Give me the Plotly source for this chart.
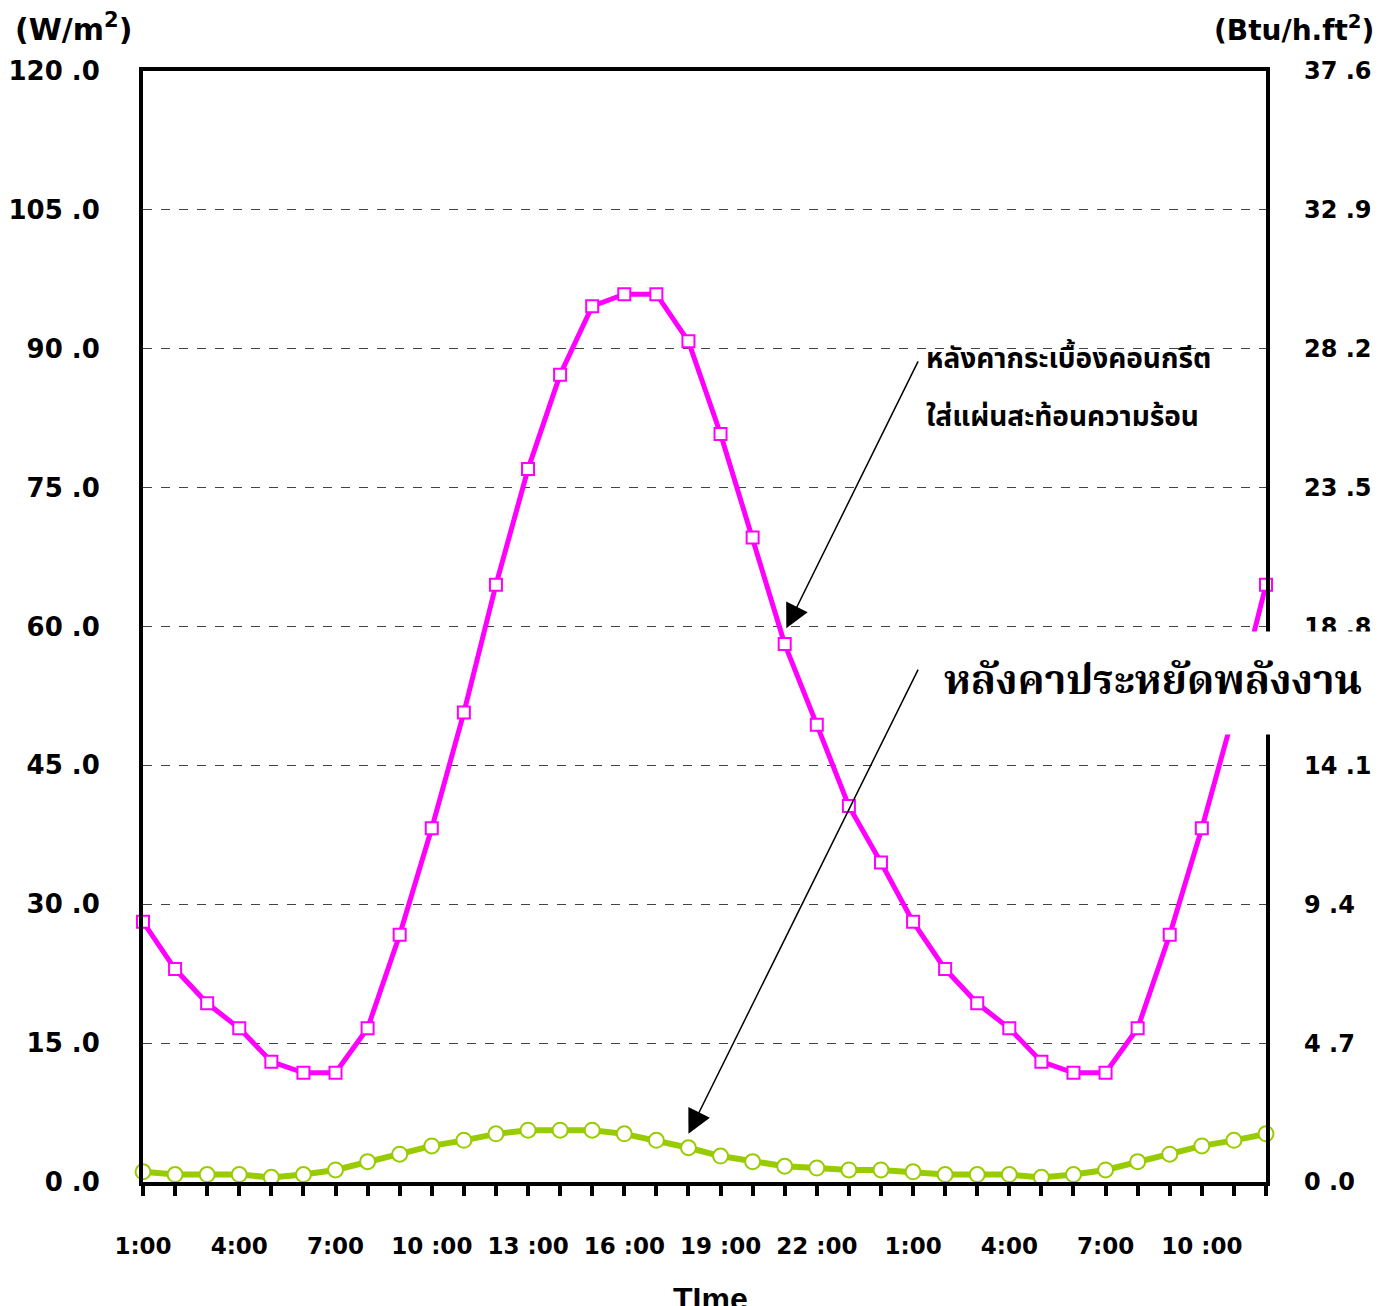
import plotly.graph_objects as go

hours = ["1:00","2:00","3:00","4:00","5:00","6:00","7:00","8:00","9:00","10:00","11:00","12:00",
         "13:00","14:00","15:00","16:00","17:00","18:00","19:00","20:00","21:00","22:00","23:00","24:00",
         "1:00","2:00","3:00","4:00","5:00","6:00","7:00","8:00","9:00","10:00","11:00","12:00"]
x_idx = list(range(len(hours)))

concrete_tile = [28.1, 23.0, 19.3, 16.6, 13.0, 11.8, 11.8, 16.6, 26.7, 38.2, 50.7, 64.5,
                 77.0, 87.2, 94.6, 95.9, 95.9, 90.8, 80.8, 69.6, 58.1, 49.4, 40.6, 34.5,
                 28.1, 23.0, 19.3, 16.6, 13.0, 11.8, 11.8, 16.6, 26.7, 38.2, 50.7, 64.5]
energy_saving = [1.1, 0.8, 0.8, 0.8, 0.5, 0.8, 1.3, 2.2, 3.0, 3.9, 4.5, 5.2,
                 5.6, 5.6, 5.6, 5.2, 4.5, 3.7, 2.8, 2.2, 1.7, 1.5, 1.3, 1.3,
                 1.1, 0.8, 0.8, 0.8, 0.5, 0.8, 1.3, 2.2, 3.0, 3.9, 4.5, 5.2]

left_ticks = [0, 15, 30, 45, 60, 75, 90, 105, 120]
left_text = ["0 .0", "15 .0", "30 .0", "45 .0", "60 .0", "75 .0", "90 .0", "105 .0", "120 .0"]
right_ticks = [0.0, 4.7, 9.4, 14.1, 18.8, 23.5, 28.2, 32.9, 37.6]
right_text = ["0 .0", "4 .7", "9 .4", "14 .1", "18 .8", "23 .5", "28 .2", "32 .9", "37 .6"]


def fmt_hour(h):
    hh, mm = h.split(":")
    return f"{hh} :{mm}" if len(hh) == 2 else h


x_text = [fmt_hour(h) if i % 3 == 0 else "" for i, h in enumerate(hours)]

label_font = "DejaVu Sans, Verdana, sans-serif"
thai_sans = "Noto Sans Thai, Loma, Garuda, Tahoma, sans-serif"
thai_serif = "Noto Serif Thai, Norasi, Noto Sans Thai, serif"

fig = go.Figure()
fig.add_trace(go.Scatter(
    x=x_idx, y=energy_saving, mode="lines+markers", cliponaxis=False,
    line=dict(color="#99CC00", width=6),
    marker=dict(symbol="circle", size=15, color="white", line=dict(color="#99CC00", width=2)),
    showlegend=False))
fig.add_trace(go.Scatter(
    x=x_idx, y=concrete_tile, mode="lines+markers", cliponaxis=False,
    line=dict(color="#FF00FF", width=5),
    marker=dict(symbol="square", size=12, color="white", line=dict(color="#FF00FF", width=2)),
    showlegend=False))
# invisible trace to attach right axis
fig.add_trace(go.Scatter(x=[x_idx[0]], y=[0], yaxis="y2", mode="markers",
                         marker=dict(opacity=0), showlegend=False, hoverinfo="skip"))

fig.update_layout(
    width=1382, height=1306,
    margin=dict(l=135, r=124, t=63, b=132),
    plot_bgcolor="white", paper_bgcolor="white",
    xaxis=dict(range=[0, 35], tickmode="array", tickvals=x_idx, ticktext=x_text,
               ticks="outside", ticklen=10, tickwidth=4, tickcolor="black",
               showline=True, linewidth=4, linecolor="black", mirror=True,
               showgrid=False, zeroline=False, ticklabelstandoff=30, automargin=False,
               tickfont=dict(family=label_font, size=23, color="black", weight="bold")),
    yaxis=dict(range=[0, 120], tickmode="array", tickvals=left_ticks, ticktext=left_text,
               showline=True, linewidth=4, linecolor="black", mirror=True,
               showgrid=True, gridcolor="#444444", griddash="dash", gridwidth=1,
               zeroline=False, ticks="", ticklabelstandoff=34, automargin=False,
               tickfont=dict(family=label_font, size=26, color="black", weight="bold")),
    yaxis2=dict(range=[0, 37.6], overlaying="y", side="right", tickmode="array",
                tickvals=right_ticks, ticktext=right_text, showgrid=False, zeroline=False,
                showline=False, ticks="", ticklabelstandoff=37, automargin=False,
                tickfont=dict(family=label_font, size=24, color="black", weight="bold")),
)

ann = []
ann.append(dict(xref="paper", yref="paper", x=-0.116, y=1.02, xanchor="left", yanchor="bottom",
                text="(W/m<sup>2</sup>)", showarrow=False,
                font=dict(family=label_font, size=30, color="black", weight="bold")))
ann.append(dict(xref="paper", yref="paper", x=1.098, y=1.02, xanchor="right", yanchor="bottom",
                text="(Btu/h.ft<sup>2</sup>)", showarrow=False,
                font=dict(family=label_font, size=28, color="black", weight="bold")))
ann.append(dict(xref="paper", yref="paper", x=0.505, y=-0.087, xanchor="center", yanchor="top",
                text="TIme", showarrow=False,
                font=dict(family="Liberation Sans, Arial, sans-serif", size=32, color="black", weight="bold")))
# arrows
ann.append(dict(x=20.05, y=59.8, ax=24.18, ay=88.8, axref="x", ayref="y", xref="x", yref="y",
                showarrow=True, arrowhead=2, arrowsize=3.2, arrowwidth=1.5, arrowcolor="black", text=""))
ann.append(dict(x=17.0, y=5.2, ax=24.18, ay=55.5, axref="x", ayref="y", xref="x", yref="y",
                showarrow=True, arrowhead=2, arrowsize=3.2, arrowwidth=1.5, arrowcolor="black", text=""))
ann.append(dict(x=24.35, y=88.8, xref="x", yref="y", xanchor="left", yanchor="middle",
                text="หลังคากระเบื้องคอนกรีต", showarrow=False,
                font=dict(family=thai_sans, size=28, color="black", weight="bold")))
ann.append(dict(x=24.35, y=82.6, xref="x", yref="y", xanchor="left", yanchor="middle",
                text="ใส่แผ่นสะท้อนความร้อน", showarrow=False,
                font=dict(family=thai_sans, size=28, color="black", weight="bold")))
ann.append(dict(x=24.37, y=53.9, xref="x", yref="y", xanchor="left", yanchor="middle",
                text="หลังคาประหยัดพลังงาน", showarrow=False, bgcolor="white",
                borderpad=18,
                font=dict(family=thai_serif, size=41, color="black", weight="bold")))
fig.update_layout(annotations=ann)

fig.write_html("out.html")
